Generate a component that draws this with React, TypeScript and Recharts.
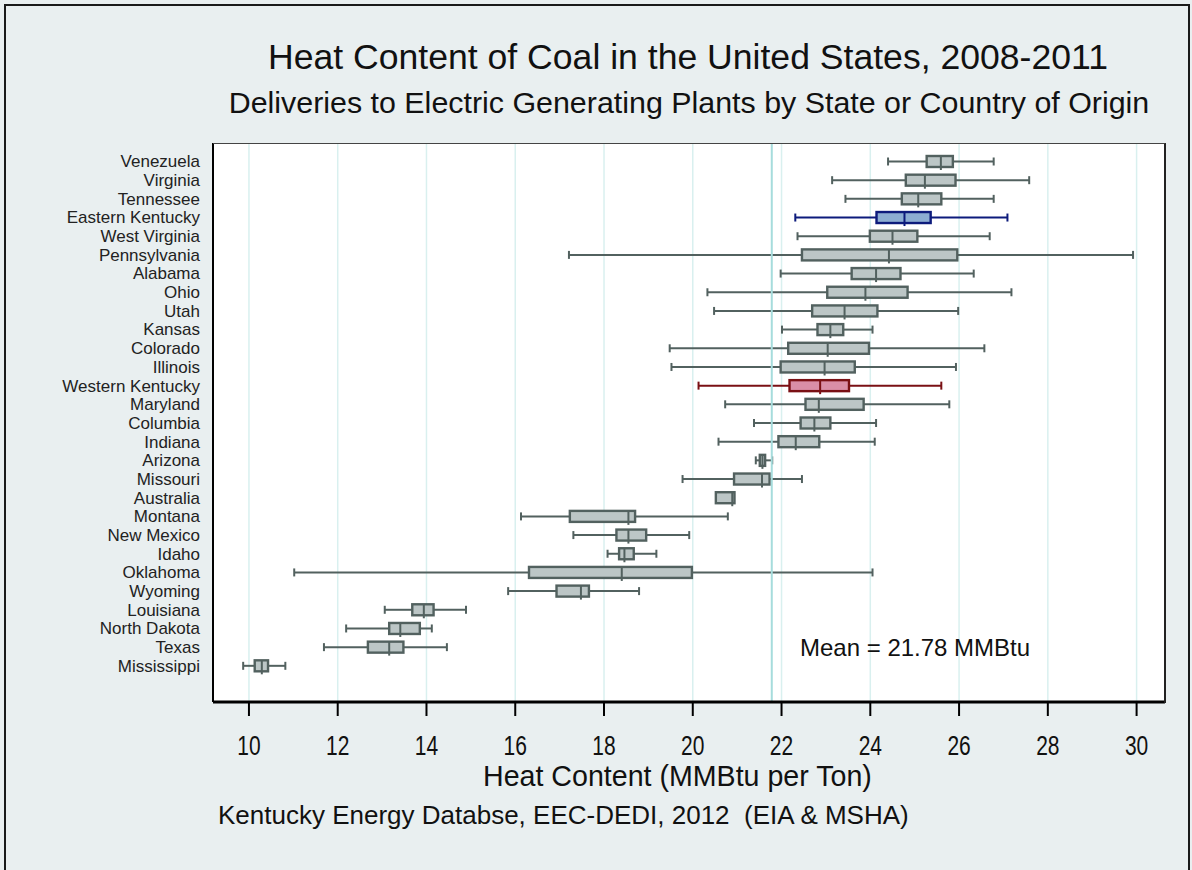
import React from 'react';
import { ComposedChart, Bar, XAxis, YAxis, CartesianGrid, ReferenceLine } from 'recharts';

const origins = [
  'Venezuela', 'Virginia', 'Tennessee', 'Eastern Kentucky', 'West Virginia', 'Pennsylvania',
  'Alabama', 'Ohio', 'Utah', 'Kansas', 'Colorado', 'Illinois', 'Western Kentucky', 'Maryland',
  'Columbia', 'Indiana', 'Arizona', 'Missouri', 'Australia', 'Montana', 'New Mexico', 'Idaho',
  'Oklahoma', 'Wyoming', 'Louisiana', 'North Dakota', 'Texas', 'Mississippi',
];
const whiskerLow = [24.40, 23.14, 23.44, 22.31, 22.36, 17.21, 21.98, 20.33, 20.48, 22.01, 19.48, 19.52, 20.13, 20.73, 21.38, 20.58, 21.42, 19.77, 20.52, 16.13, 17.31, 18.08, 11.02, 15.84, 13.06, 12.19, 11.69, 9.87];
const quartile1 = [25.27, 24.80, 24.71, 24.14, 23.99, 22.46, 23.58, 23.03, 22.69, 22.81, 22.15, 21.98, 22.18, 22.54, 22.43, 21.93, 21.51, 20.93, 20.52, 17.23, 18.28, 18.34, 16.31, 16.93, 13.68, 13.16, 12.68, 10.13];
const medians = [25.59, 25.23, 25.08, 24.77, 24.50, 24.42, 24.13, 23.89, 23.42, 23.10, 23.04, 22.97, 22.87, 22.84, 22.74, 22.32, 21.57, 21.56, 20.89, 18.55, 18.55, 18.46, 18.40, 17.48, 13.94, 13.41, 13.16, 10.29];
const quartile3 = [25.86, 25.92, 25.60, 25.36, 25.06, 25.96, 24.68, 24.84, 24.16, 23.39, 23.97, 23.65, 23.52, 23.85, 23.10, 22.85, 21.63, 21.73, 20.94, 18.70, 18.95, 18.67, 19.98, 17.66, 14.16, 13.85, 13.48, 10.43];
const whiskerHigh = [26.78, 27.58, 26.78, 27.09, 26.69, 29.92, 26.33, 27.18, 25.98, 24.05, 26.57, 25.93, 25.60, 25.78, 24.13, 24.10, 21.79, 22.46, 20.94, 20.79, 19.92, 19.18, 24.05, 18.79, 14.89, 14.12, 14.46, 10.82];
const xTicks = [10, 12, 14, 16, 18, 20, 22, 24, 26, 28, 30];
const meanValue = 21.78;

const data = origins.map((name, i) => ({
  name,
  lo: whiskerLow[i],
  q1: quartile1[i],
  med: medians[i],
  q3: quartile3[i],
  hi: whiskerHigh[i],
}));

const FONT = '"Liberation Sans", Arial, Helvetica, sans-serif';

const palette = (name: string) => {
  if (name === 'Eastern Kentucky') return { fill: '#8cadd2', stroke: '#0d1b7c' };
  if (name === 'Western Kentucky') return { fill: '#d98ea7', stroke: '#7a1014' };
  return { fill: '#bcc6c6', stroke: '#52615f' };
};

function BoxShape(props: any) {
  const { x, y, width, height, payload } = props;
  if (!payload) return null;
  const { lo, q1, med, q3, hi, name } = payload;
  const span = hi - lo;
  const k = span > 0 ? width / span : 0;
  const px = (v: number) => x + (v - lo) * k;
  const cy = y + height / 2;
  const c = palette(name);
  const capH = 8;
  const sw = 2;
  return (
    <g>
      <line x1={px(lo)} x2={px(q1)} y1={cy} y2={cy} stroke={c.stroke} strokeWidth={sw} />
      <line x1={px(q3)} x2={px(hi)} y1={cy} y2={cy} stroke={c.stroke} strokeWidth={sw} />
      {hi > q3 && (
        <line x1={px(hi)} x2={px(hi)} y1={cy - capH / 2} y2={cy + capH / 2} stroke={c.stroke} strokeWidth={sw} />
      )}
      {lo < q1 && (
        <line x1={px(lo)} x2={px(lo)} y1={cy - capH / 2} y2={cy + capH / 2} stroke={c.stroke} strokeWidth={sw} />
      )}
      <rect x={px(q1)} y={y} width={Math.max(px(q3) - px(q1), 1)} height={height} fill={c.fill} stroke={c.stroke} strokeWidth={2.4} />
      <line x1={px(med)} x2={px(med)} y1={y} y2={y + height + 3} stroke={c.stroke} strokeWidth={sw} />
    </g>
  );
}

function XTick(props: any) {
  const { x, y, payload } = props;
  return (
    <g transform={`translate(${x},${y + 17}) scale(1,1.3)`}>
      <text x={0} y={0} textAnchor="middle" fontSize={21} fill="#111" fontFamily={FONT}>
        {payload.value}
      </text>
    </g>
  );
}

const textBase: React.CSSProperties = {
  position: 'absolute',
  fontFamily: FONT,
  color: '#111',
  whiteSpace: 'nowrap',
  pointerEvents: 'none',
};

export default function App() {
  return (
    <div style={{ position: 'absolute', left: 0, top: 0, width: 1192, height: 870, background: '#e9eff0', overflow: 'hidden' }}>
      <div style={{ position: 'absolute', left: 4, top: 4, width: 1186, height: 880, border: '2px solid #1a1a1a', boxSizing: 'border-box' }} />
      <div style={{ ...textBase, left: 0, width: 1376, top: 40, fontSize: 35.6, lineHeight: '35px', textAlign: 'center' }}>
        Heat Content of Coal in the United States, 2008-2011
      </div>
      <div style={{ ...textBase, left: 0, width: 1378, top: 87, fontSize: 30.4, lineHeight: '30px', textAlign: 'center' }}>
        Deliveries to Electric Generating Plants by State or Country of Origin
      </div>
      <div style={{ position: 'absolute', left: 0, top: 0 }}>
        <ComposedChart
          width={1192}
          height={870}
          data={data}
          layout="vertical"
          margin={{ top: 143, right: 27, bottom: 108, left: 13 }}
        >
          <CartesianGrid horizontal={false} vertical={true} stroke="#d9f0ef" strokeWidth={1.5} fill="#ffffff" />
          <XAxis
            type="number"
            domain={[9.19, 30.64]}
            ticks={xTicks}
            allowDataOverflow
            height={60}
            tickSize={14}
            tickMargin={22}
            tick={<XTick />}
            axisLine={{ stroke: '#000', strokeWidth: 3 }}
            tickLine={{ stroke: '#000', strokeWidth: 2 }}
          />
          <YAxis
            type="category"
            dataKey="name"
            width={200}
            interval={0}
            padding={{ top: 9, bottom: 27 }}
            tickSize={0}
            tickMargin={13}
            tickLine={false}
            tick={{ fontSize: 17, fill: '#222', fontFamily: FONT }}
            axisLine={{ stroke: '#000', strokeWidth: 2 }}
          />
          <ReferenceLine x={meanValue} stroke="#a6dcdc" strokeWidth={2} />
          <Bar
            dataKey={(d: any) => [d.lo, d.hi]}
            barSize={11}
            isAnimationActive={false}
            shape={(p: any) => <BoxShape {...p} />}
          />
        </ComposedChart>
      </div>
      <div style={{ position: 'absolute', left: 213, top: 143, width: 953, height: 560, borderTop: '1.5px solid #444', borderRight: '2px solid #222', boxSizing: 'border-box', pointerEvents: 'none' }} />
      <div style={{ ...textBase, left: 800, top: 636, fontSize: 24, lineHeight: '24px' }}>
        Mean = 21.78 MMBtu
      </div>
      <div style={{ ...textBase, left: 483, top: 762, fontSize: 28.6, lineHeight: '28px' }}>
        Heat Content (MMBtu per Ton)
      </div>
      <div style={{ ...textBase, left: 218, top: 802, fontSize: 26, lineHeight: '26px' }}>
        Kentucky Energy Databse, EEC-DEDI, 2012&nbsp;&nbsp;(EIA &amp; MSHA)
      </div>
    </div>
  );
}
